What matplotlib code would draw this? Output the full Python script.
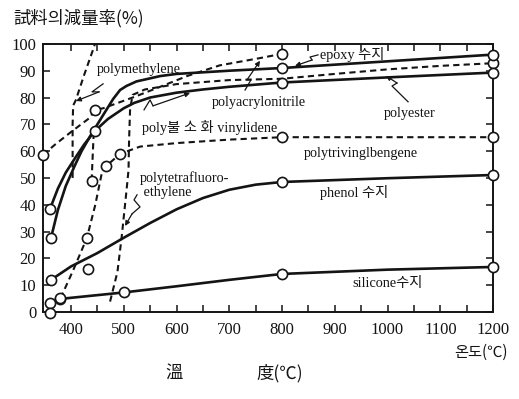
import numpy as np
import matplotlib.pyplot as plt

plt.rcParams['font.family'] = ['Liberation Serif', 'Noto Sans CJK KR']
ink = '#141414'

# temperature (degC) vs weight loss (%)
silicone_t = [360, 380, 500, 600, 700, 800, 1000, 1200]
silicone = [3.5, 4.9, 7.3, 9.6, 12.0, 14.2, 15.8, 16.8]
silicone_mt = [360, 380, 500, 800, 1200]
silicone_m = [3.5, 4.9, 7.3, 14.2, 16.8]

phenol_t = [362, 400, 450, 500, 550, 600, 650, 700, 750, 800, 1000, 1200]
phenol = [12, 17, 22, 27.7, 33.2, 38.3, 42.5, 45.6, 47.5, 48.5, 49.9, 51.1]
phenol_mt = [362, 800, 1200]
phenol_m = [12, 48.5, 51.1]

ptvb_t = [380, 405, 430, 446, 458, 467, 493, 531, 600, 700, 800, 1000, 1200]
ptvb = [5.1, 16, 27.6, 40, 51.5, 54.5, 59, 61.7, 63, 64.3, 65.2, 65.2, 65.2]
ptvb_mt = [380, 430, 467, 493, 800, 1200]
ptvb_m = [5.1, 27.6, 54.5, 59, 65.2, 65.2]

ptfe_t = [474, 488, 496, 505, 509, 510, 512, 517, 540, 600, 700, 800, 900, 1000, 1100, 1200]
ptfe = [3.9, 15, 28, 45, 53, 64, 76, 81, 83, 85, 86.5, 87, 88.8, 90.5, 91.8, 92.8]
ptfe_mt = [1200]
ptfe_m = [92.8]

pmeth_t = [403, 403, 404, 409, 425, 442, 447]
pmeth = [50, 70, 77, 79, 88.5, 98, 101]
pmeth2_t = [439, 441, 443]
pmeth2 = [49, 58, 67]

pvdf_t = [347, 370, 401, 436, 445, 461, 521, 569, 620, 682, 758, 800]
pvdf = [58.6, 62.5, 67.3, 72.5, 75.4, 76, 80.3, 84, 88, 92, 94.7, 96.3]
pvdf_mt = [347, 445, 800]
pvdf_m = [58.6, 75.4, 96.3]

upper_t = [362, 375, 390, 408, 420, 436, 450, 467, 480, 493, 505, 524, 569, 600, 700, 800, 1200]
upper = [27.6, 38, 47, 55, 60, 65.5, 70, 75.4, 79.5, 82.8, 84.3, 86, 88, 88.8, 90, 91, 96]
upper_mt = [362, 800, 1200]
upper_m = [27.6, 91, 96]

lower_t = [360, 375, 390, 408, 425, 445, 470, 500, 520, 550, 600, 650, 700, 800, 1000, 1200]
lower = [38.4, 46, 52, 57.5, 62.5, 67.5, 72, 76, 78, 80, 81.8, 83, 84, 85.6, 87.5, 89.3]
lower_mt = [360, 445, 800, 1200]
lower_m = [38.4, 67.5, 85.6, 89.3]

loose_t = [360, 433, 439]
loose = [-0.5, 15.9, 49]

fig = plt.figure(figsize=(5.19, 3.99), dpi=100)
ax = fig.add_axes([0.083, 0.218, 0.867, 0.672])

solid = dict(color=ink, lw=1.9, solid_capstyle='round')
dashed = dict(color=ink, lw=1.5, linestyle=(0, (3, 2)))

ax.plot(silicone_t, silicone, **solid)
ax.plot(phenol_t, phenol, **solid)
ax.plot(upper_t, upper, **solid)
ax.plot(lower_t, lower, **solid)
ax.plot(ptvb_t, ptvb, **dashed)
ax.plot(ptfe_t, ptfe, **dashed)
ax.plot(pmeth_t, pmeth, **dashed)
ax.plot(pmeth2_t, pmeth2, **dashed)
ax.plot(pvdf_t, pvdf, **dashed)

mk = dict(ls='none', marker='o', ms=7.3, mfc='white', mec=ink, mew=1.2, zorder=5, clip_on=False)
for t, v in [(silicone_mt, silicone_m), (phenol_mt, phenol_m), (ptvb_mt, ptvb_m),
             (ptfe_mt, ptfe_m), (pvdf_mt, pvdf_m), (upper_mt, upper_m),
             (lower_mt, lower_m), (loose_t, loose)]:
    ax.plot(t, v, **mk)


def squiggle(xs, ys):
    ax.plot(xs[:-1], ys[:-1], color=ink, lw=0.9)
    ax.annotate('', xy=(xs[-1], ys[-1]), xytext=(xs[-2], ys[-2]),
                arrowprops=dict(arrowstyle='-|>', color=ink, lw=0.9,
                                mutation_scale=7, shrinkA=0, shrinkB=0))


squiggle([460.7, 439.8, 453.1, 409.5], [85.1, 82.1, 82.1, 78.7])
squiggle([729.9, 741.2, 733.6, 758.3], [82.8, 86.6, 86.6, 93.7])
squiggle([538.4, 549.8, 555.4, 625.6], [75.4, 79.1, 76.9, 81.7])
squiggle([868.2, 853.1, 856.9, 824.6], [95.9, 95.1, 94.0, 91.8])
squiggle([1038.9, 1008.5, 1018.0, 997.1], [78.4, 84.3, 85.4, 88.1])
squiggle([525.1, 519.4, 530.8, 515.6, 502.4], [43.7, 41.8, 39.2, 36.6, 32.1])

lab = dict(fontsize=10.3, color=ink, va='center')
ax.text(449, 90.3, 'polymethylene', ha='left', **lab)
ax.text(872, 95.9, 'epoxy 수지', ha='left', **lab)
ax.text(757, 78, 'polyacrylonitrile', ha='center', **lab)
ax.text(535, 68.7, 'poly불 소 화 vinylidene', ha='left', **lab)
ax.text(1042, 74.2, 'polyester', ha='center', **lab)
ax.text(950, 59, 'polytrivinglbengene', ha='center', **lab)
ax.text(531, 47.4, 'polytetrafluoro-\n ethylene', ha='left', linespacing=1.15, **lab)
ax.text(872, 44.4, 'phenol 수지', ha='left', **lab)
ax.text(933, 10.8, 'silicone수지', ha='left', **lab)

ax.set_xlim(347, 1200)
ax.set_ylim(0, 100)
ax.set_xticks(np.arange(400, 1201, 100))
ax.set_xticks(np.arange(450, 1200, 100), minor=True)
ax.set_yticks(np.arange(0, 101, 10))
ax.tick_params(which='both', direction='in', length=5, width=1.1, top=True,
               right=True, color=ink, labelcolor=ink, labelsize=12)
ax.tick_params(axis='x', pad=7)
ax.tick_params(axis='y', pad=5)
for s in ax.spines.values():
    s.set_linewidth(1.4)
    s.set_color(ink)

fig.text(0.025, 0.955, '試料의減量率(%)', fontsize=12.5, color=ink, va='center',
         family=['Noto Sans CJK KR'])
fig.text(0.979, 0.118, '온도(℃)', fontsize=11, color=ink, ha='right', va='center',
         family=['Noto Sans CJK KR'])
fig.text(0.335, 0.065, '溫', fontsize=12.5, color=ink, ha='center', va='center',
         family=['Noto Sans CJK KR'])
fig.text(0.495, 0.065, '度(℃)', fontsize=12.5, color=ink, ha='left', va='center',
         family=['Noto Sans CJK KR'])

fig.savefig('out.png', dpi=100)
